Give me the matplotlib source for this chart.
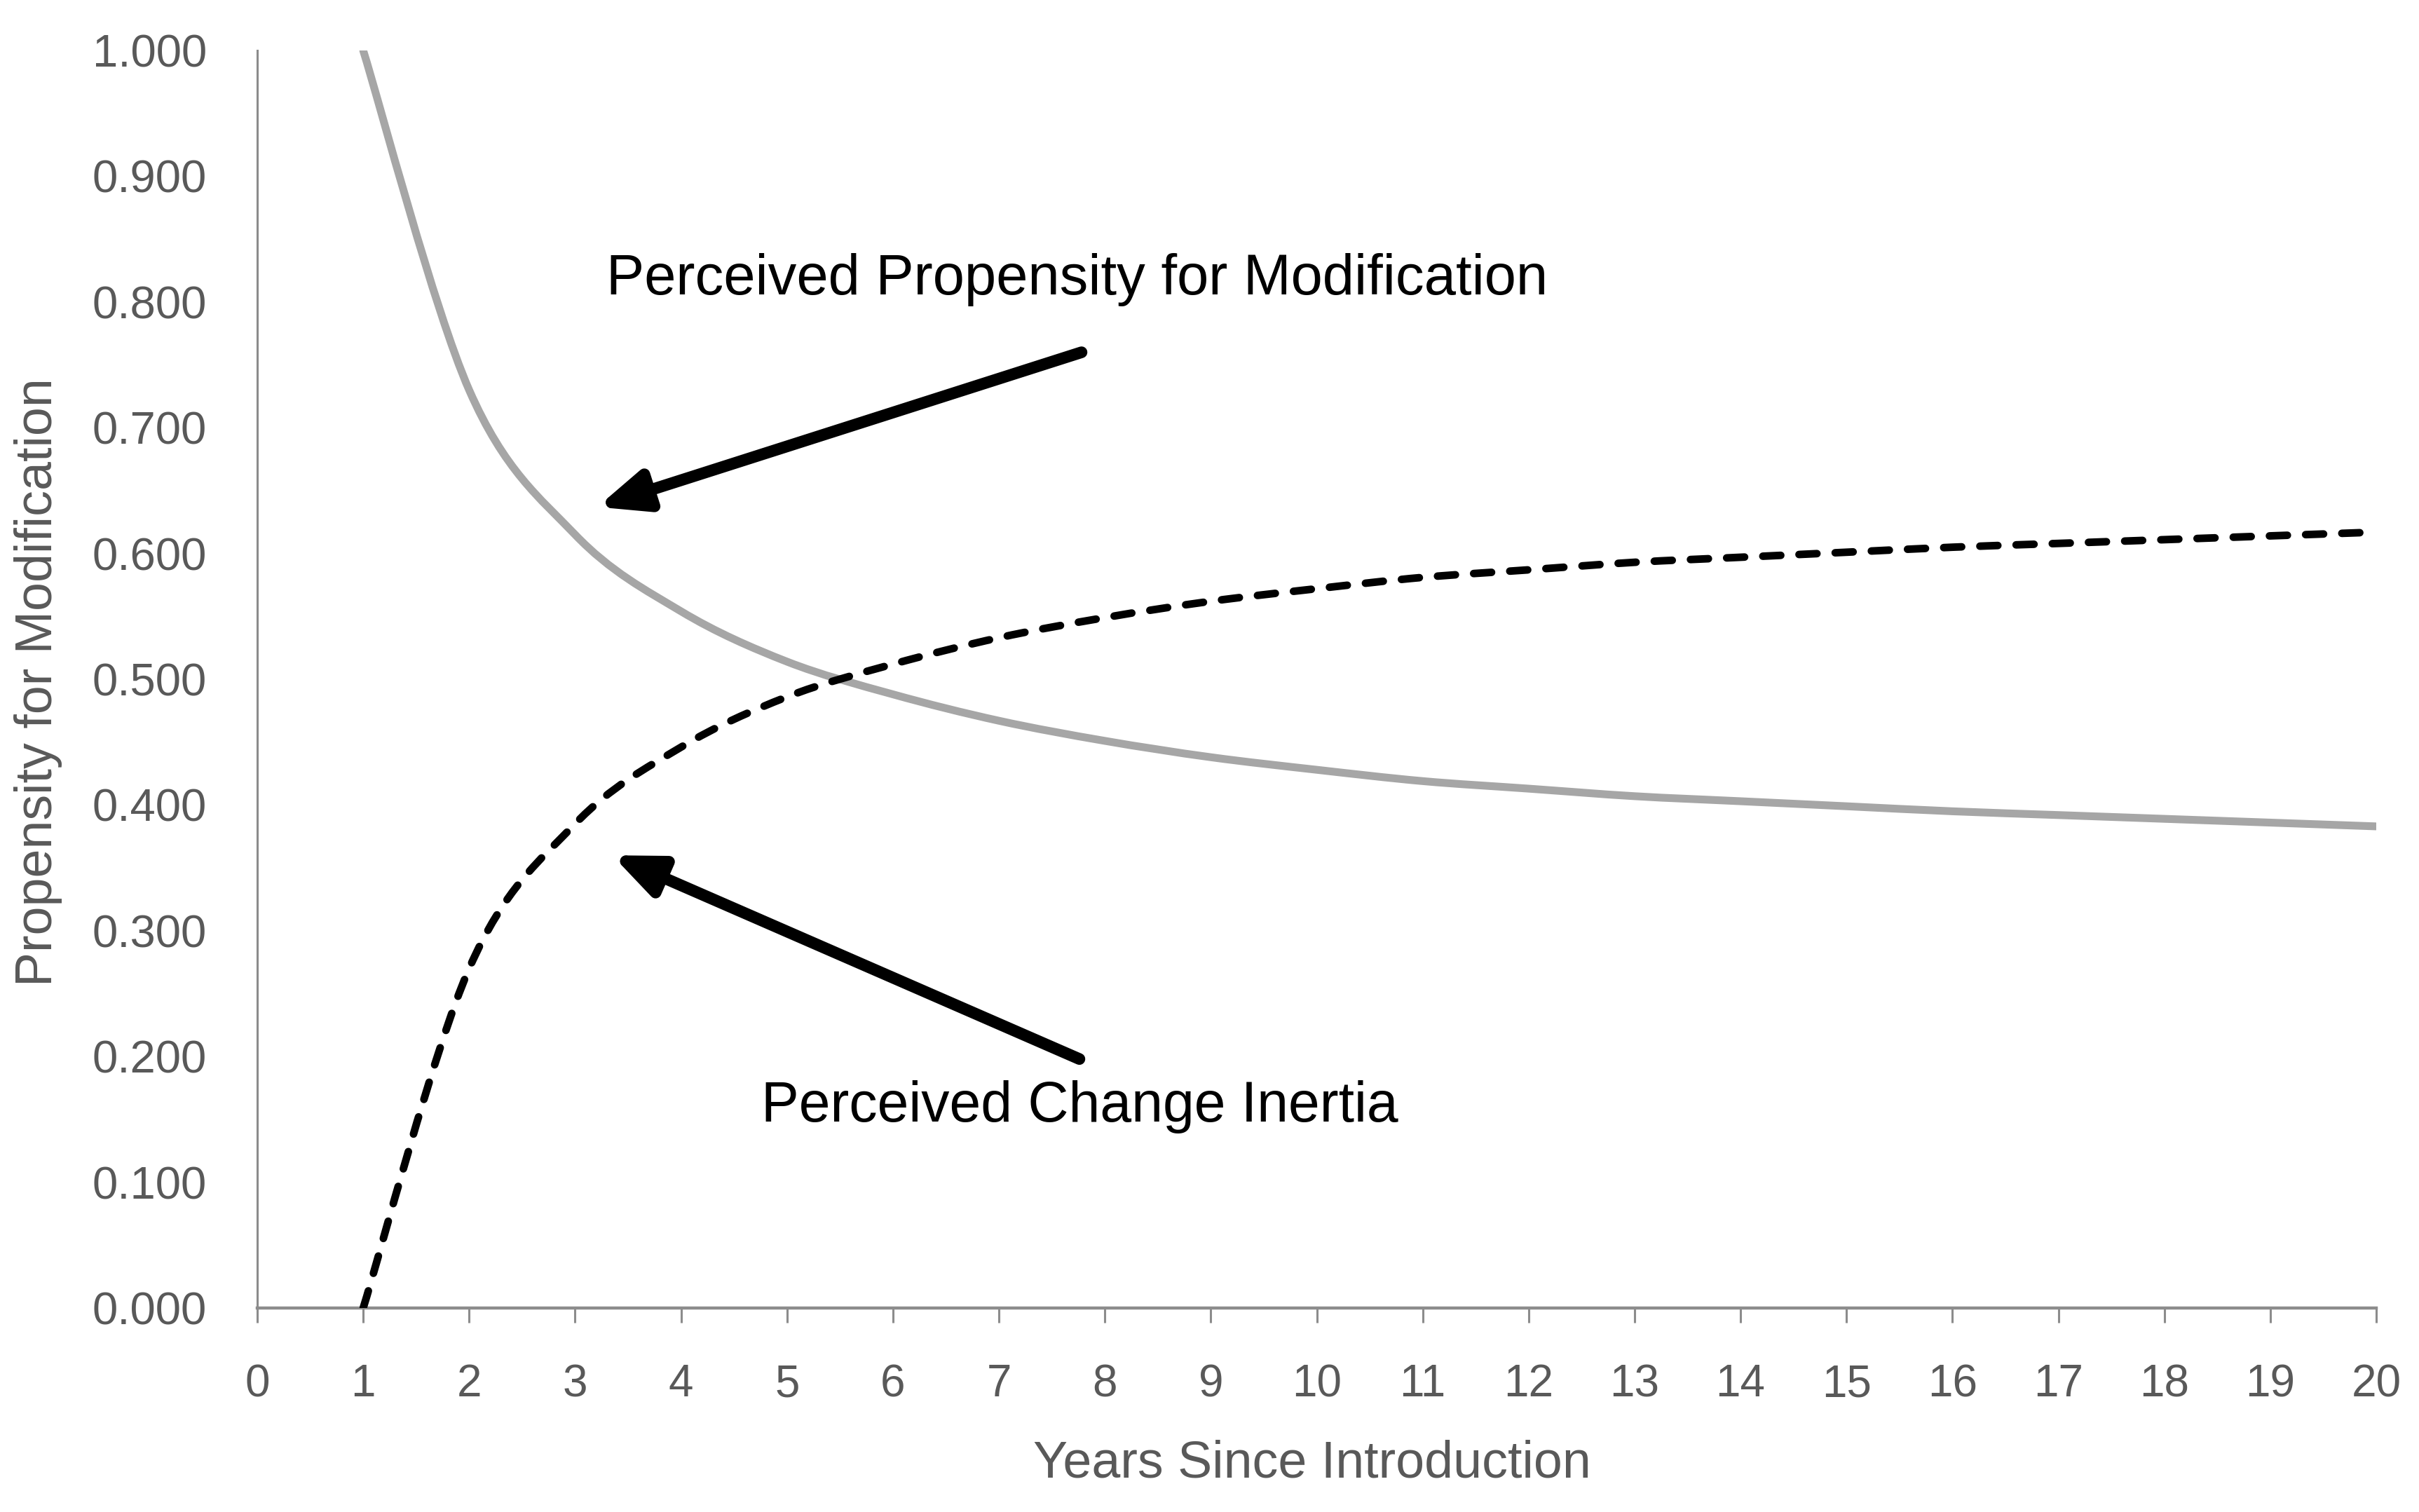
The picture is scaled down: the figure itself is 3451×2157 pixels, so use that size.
import numpy as np
import matplotlib
matplotlib.use("Agg")
import matplotlib.pyplot as plt
from matplotlib.path import Path
from matplotlib.patches import PathPatch

plt.rcParams['font.family'] = ['Liberation Sans', 'DejaVu Sans']
plt.rcParams['lines.scale_dashes'] = False

# ---------------- data ----------------
years = [1, 2, 3, 4, 5, 6, 7, 8, 9, 10, 11, 12, 13, 14, 15, 16, 17, 18, 19, 20]
propensity = [1.000, 0.730, 0.615, 0.554, 0.514, 0.488, 0.467, 0.451, 0.438, 0.428,
              0.419, 0.413, 0.407, 0.403, 0.399, 0.395, 0.392, 0.389, 0.386, 0.383]
inertia = [0.000, 0.270, 0.385, 0.446, 0.486, 0.512, 0.533, 0.549, 0.562, 0.572,
           0.581, 0.587, 0.593, 0.597, 0.601, 0.605, 0.608, 0.611, 0.614, 0.617]
x_ticks = list(range(0, 21))
y_ticks = [0.0, 0.1, 0.2, 0.3, 0.4, 0.5, 0.6, 0.7, 0.8, 0.9, 1.0]
y_tick_labels = ["0.000", "0.100", "0.200", "0.300", "0.400", "0.500",
                 "0.600", "0.700", "0.800", "0.900", "1.000"]
label_propensity = "Perceived Propensity for Modification"
label_inertia = "Perceived Change Inertia"
x_title = "Years Since Introduction"
y_title = "Propensity for Modification"


def smooth_path(xs, ys):
    """Excel-like smoothed line: cubic Bezier segments through the data points."""
    pts = np.column_stack([xs, ys]).astype(float)
    n = len(pts)
    verts = [pts[0]]
    codes = [Path.MOVETO]
    for i in range(n - 1):
        p0 = pts[i - 1] if i > 0 else pts[i]
        p1 = pts[i]
        p2 = pts[i + 1]
        p3 = pts[i + 2] if i + 2 < n else pts[i + 1]
        c1 = p1 + (p2 - p0) / 6.0
        c2 = p2 - (p3 - p1) / 6.0
        verts += [c1, c2, p2]
        codes += [Path.CURVE4] * 3
    return Path(verts, codes)


W, H, DPI = 3451, 2157, 200
fig = plt.figure(figsize=(W / DPI, H / DPI), dpi=DPI)
fig.patch.set_facecolor('white')

left, right, bottom, top = 367 / W, 3390 / W, 1 - 1866 / H, 1 - 72 / H
ax = fig.add_axes([left, bottom, right - left, top - bottom])
ax.set_xlim(0, 20)
ax.set_ylim(0, 1)

gray_patch = PathPatch(smooth_path(years, propensity), fill=False,
                       edgecolor='#A6A6A6', linewidth=4.0,
                       capstyle='round', joinstyle='round', zorder=3)
ax.add_patch(gray_patch)
dash_patch = PathPatch(smooth_path(years, inertia), fill=False,
                       edgecolor='black', linewidth=3.9,
                       linestyle=(0, (9.2, 9.4)),
                       capstyle='round', joinstyle='round', zorder=4)
ax.add_patch(dash_patch)

# spines
for s in ['top', 'right']:
    ax.spines[s].set_visible(False)
ax.spines['left'].set_color('#8C8C8C')
ax.spines['left'].set_linewidth(1.1)
ax.spines['bottom'].set_color('#8C8C8C')
ax.spines['bottom'].set_linewidth(1.6)

ax.set_xticks(x_ticks)
ax.set_xticklabels([str(t) for t in x_ticks])
ax.set_yticks(y_ticks)
ax.set_yticklabels(y_tick_labels)
ax.tick_params(axis='x', direction='out', length=7.5, width=1.1, color='#8C8C8C',
               labelsize=23, labelcolor='#595959', pad=21)
ax.tick_params(axis='y', length=0, labelsize=23.5, labelcolor='#595959', pad=26)

# axis titles
fig.text(1872 / W, 1 - 2088 / H, x_title, ha='center', va='center',
         fontsize=26.5, color='#595959')
fig.text(55 / W, 1 - 973 / H, y_title, ha='center', va='center', rotation=90,
         fontsize=26.5, color='#595959')

# annotations
arrow_style = dict(arrowstyle='-|>,head_length=0.85,head_width=0.36',
                   mutation_scale=24, lw=6.0, color='black',
                   shrinkA=0, shrinkB=0)
ax.annotate('', xy=(3.21, 0.637), xytext=(7.78, 0.760), arrowprops=arrow_style, zorder=5)
ax.annotate('', xy=(3.35, 0.360), xytext=(7.76, 0.198), arrowprops=arrow_style, zorder=5)
ax.text(7.74, 0.806, label_propensity, ha='center', va='baseline',
        fontsize=29.3, color='black')
ax.text(7.76, 0.148, label_inertia, ha='center', va='baseline',
        fontsize=29.0, color='black')

fig.savefig('out.png', dpi=DPI, facecolor='white')
